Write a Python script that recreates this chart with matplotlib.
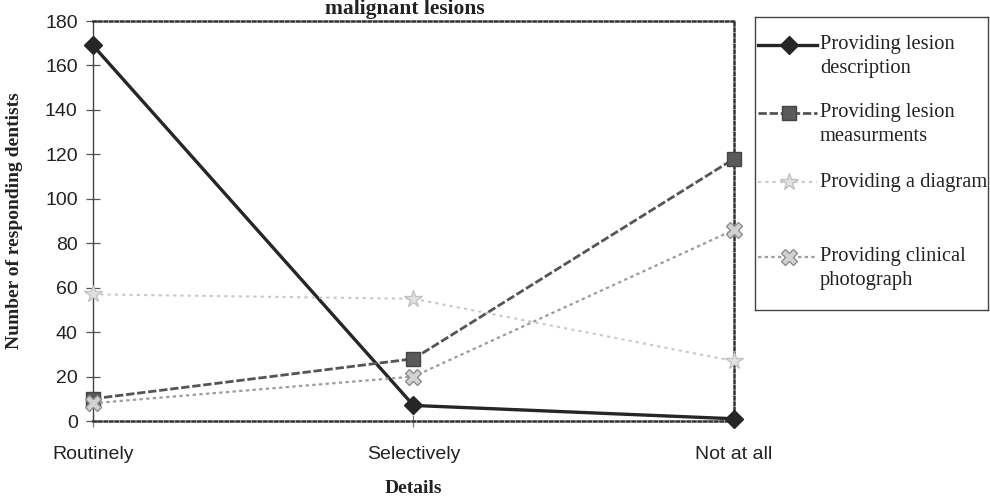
import matplotlib
matplotlib.use("Agg")
import matplotlib.pyplot as plt

categories = ["Routinely", "Selectively", "Not at all"]
lesion_description = [169, 7, 1]
lesion_measurements = [10, 28, 118]
diagram = [57, 55, 27]
clinical_photograph = [8, 20, 86]

series_labels = [
    ["Providing lesion", "description"],
    ["Providing lesion", "measurments"],
    ["Providing a diagram"],
    ["Providing clinical", "photograph"],
]
y_ticks = list(range(0, 181, 20))

W, H = 990, 499
fig = plt.figure(figsize=(W / 100, H / 100), dpi=100)
fig.patch.set_facecolor("white")

ax = fig.add_axes([93 / W, 1 - 421 / H, (734 - 93) / W, (421 - 21) / H])
x = list(range(len(categories)))

styles = [
    dict(color="#262626", lw=2.4, ls="-", marker="D", ms=9, mfc="#262626", mec="#262626"),
    dict(color="#555555", lw=2.0, ls=(0, (3, 1)), marker="s", ms=10, mfc="#5a5a5a", mec="#444444"),
    dict(color="#c8c8c8", lw=1.5, ls=(0, (1.5, 2)), marker="*", ms=13, mfc="#e2e2e2", mec="#c2c2c2"),
    dict(color="#9c9c9c", lw=1.6, ls=(0, (1.5, 1.5)), marker="X", ms=11, mfc="#d2d2d2", mec="#8e8e8e"),
]
series = [lesion_description, lesion_measurements, diagram, clinical_photograph]
order = [2, 3, 1, 0]
for i in order:
    ax.plot(x, series[i], zorder=3 + i, clip_on=False, **styles[i])

ax.set_xlim(0, 2)
ax.set_ylim(0, 180)
ax.set_yticks(y_ticks)
ax.set_xticks(x)
ax.set_xticklabels(categories, family="Liberation Sans", fontsize=14, color="#222222")
for lab in ax.get_yticklabels():
    lab.set_family("Liberation Sans")
    lab.set_fontsize(14)
    lab.set_color("#222222")
ax.tick_params(axis="y", direction="inout", length=10, width=0.9, color="#555555", pad=6)
ax.tick_params(axis="x", direction="inout", length=8, width=0.9, color="#777777", pad=14)

for side in ["top", "right", "bottom"]:
    ax.spines[side].set_linestyle((0, (1, 1.2)))
    ax.spines[side].set_linewidth(1.8)
    ax.spines[side].set_color("#333333")
ax.spines["left"].set_linewidth(1.0)
ax.spines["left"].set_color("#444444")

ax.set_ylabel("Number of responding dentists", family="Liberation Serif",
              fontweight="bold", fontsize=14, labelpad=16, color="#222222")
ax.set_xlabel("Details", family="Liberation Serif", fontweight="bold",
              fontsize=14, labelpad=12, color="#222222")

fig.text(405 / W, 1 - 14 / H, "malignant lesions", ha="center", va="baseline",
         family="Liberation Serif", fontweight="bold", fontsize=15.5, color="#222222")

# Legend box
lg = fig.add_axes([755 / W, 1 - 310 / H, (988 - 755) / W, (310 - 17) / H])
lg.set_xlim(0, 233)
lg.set_ylim(293, 0)
lg.set_xticks([])
lg.set_yticks([])
for sp in lg.spines.values():
    sp.set_linewidth(1.0)
    sp.set_color("#444444")

entry_y = [28, 96, 165, 240]
for i, yy in enumerate(entry_y):
    st = dict(styles[i])
    lg.plot([3, 62], [yy, yy], color=st["color"], lw=st["lw"], ls=st["ls"])
    lg.plot([34], [yy], ls="none", marker=st["marker"], ms=st["ms"],
            mfc=st["mfc"], mec=st["mec"])
    for j, line in enumerate(series_labels[i]):
        lg.text(65, yy + j * 23.5, line, va="center", ha="left",
                family="Liberation Serif", fontsize=14.8, color="#222222")

fig.savefig("out.png", dpi=100)
